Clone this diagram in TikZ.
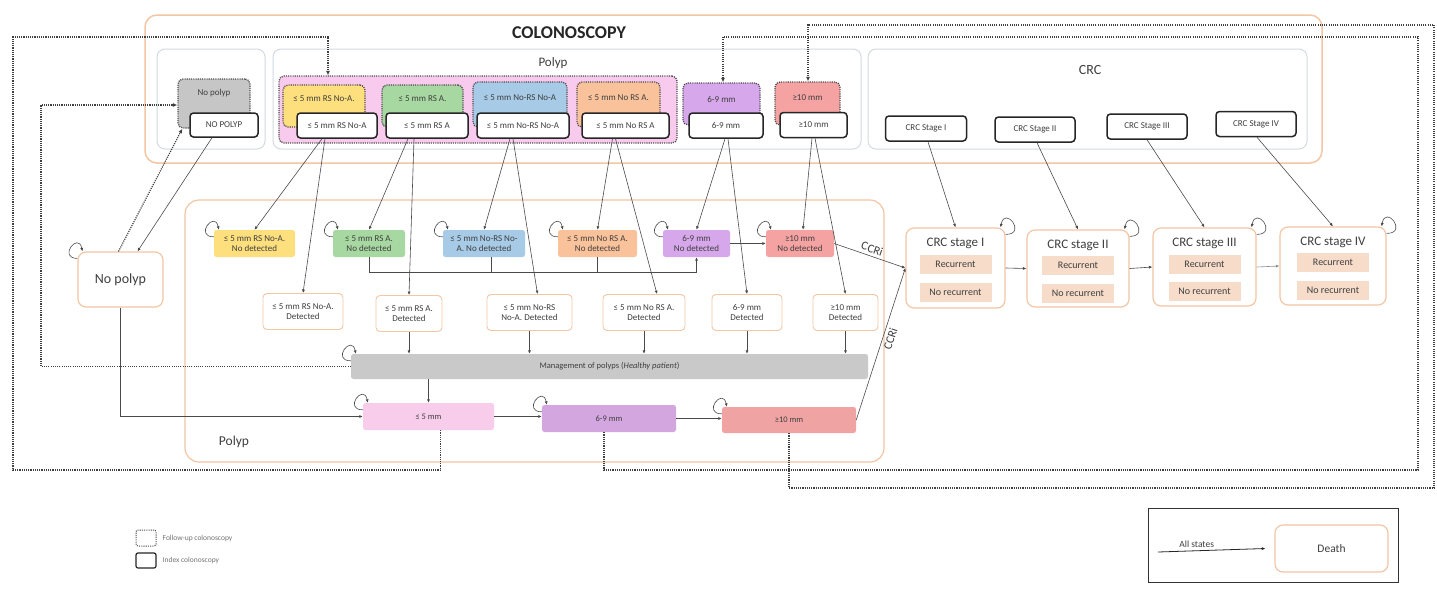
\documentclass[tikz,border=0pt]{standalone}
\usepackage{fontspec}
\setmainfont{Carlito}
\usetikzlibrary{arrows.meta}

\definecolor{peach}{HTML}{F4C6A3}
\definecolor{secgrey}{HTML}{D4DADF}
\definecolor{txt}{HTML}{3F3F3F}
\definecolor{lnc}{HTML}{4A4A4A}
\definecolor{yel}{HTML}{FDDF7E}
\definecolor{grn}{HTML}{A8D8A2}
\definecolor{blu}{HTML}{A7CAE6}
\definecolor{org}{HTML}{F9C29B}
\definecolor{pur}{HTML}{D6A7EA}
\definecolor{salmon}{HTML}{F5A2A2}
\definecolor{pinkgrp}{HTML}{F8CBEE}
\definecolor{npgrey}{HTML}{C6C6C6}
\definecolor{mggrey}{HTML}{C9C9C9}
\definecolor{smpink}{HTML}{F7CDEB}
\definecolor{mdpur}{HTML}{D3A6DF}
\definecolor{lgred}{HTML}{F0A3A3}
\definecolor{recfill}{HTML}{F7DCCA}

\newcommand{\selfloopnw}[1]{\draw[arr] ([yshift=-7pt]#1.north west) .. controls +(-20pt,0pt) and +(-4pt,20pt) .. ([xshift=5pt]#1.north west);}
\newcommand{\selfloopne}[1]{\draw[arr] ([yshift=-7pt]#1.north east) .. controls +(22pt,0pt) and +(4pt,22pt) .. ([xshift=-5pt]#1.north east);}

\begin{document}
\begin{tikzpicture}[x=1pt, y=-1pt,
    every node/.style={font=\fontsize{9}{10.5}\selectfont, text=txt, align=center, inner sep=1pt},
    arr/.style={draw=lnc, line width=0.6pt, -{Latex[length=3.5pt, width=3pt]}},
    ln/.style={draw=lnc, line width=0.6pt},
    fuline/.style={draw=black!75, line width=1.2pt, dash pattern=on 1.1pt off 1.1pt},
    fuarr/.style={fuline, -{Latex[length=4.5pt, width=4pt]}},
    ixbox/.style={draw=black!85, line width=1.5pt, fill=white, rounded corners=3.5pt, minimum height=25pt},
    fubox/.style={draw=black!70, line width=1.3pt, dash pattern=on 1.1pt off 1.1pt, rounded corners=5pt},
    ndbox/.style={rounded corners=2.5pt, minimum height=27pt},
    dtbox/.style={draw=peach, line width=0.9pt, fill=white, rounded corners=4pt, minimum height=36pt},
    bigbox/.style={draw=peach, line width=1.2pt, fill=white, rounded corners=8pt},
    recbox/.style={fill=recfill, minimum width=72pt, minimum height=19pt, font=\fontsize{10}{12}\selectfont},
    barbox/.style={rounded corners=2.5pt, minimum height=27pt, font=\fontsize{8.5}{10}\selectfont},
    ccri/.style={font=\fontsize{12}{14}\selectfont, inner sep=3pt}
]
\useasboundingbox (0,0) rectangle (1437,590);
\fill[white] (0,0) rectangle (1437,590);

\draw[peach, line width=1.5pt, rounded corners=12pt] (145,15) rectangle (1322,163);
\draw[secgrey, line width=1pt, rounded corners=8pt] (157,49) rectangle (265,149);
\draw[secgrey, line width=1pt, rounded corners=8pt] (273,49) rectangle (861,149);
\draw[secgrey, line width=1pt, rounded corners=8pt] (868,49) rectangle (1307,149);
\draw[peach, line width=1.2pt, rounded corners=14pt] (185,200) rectangle (884,462);

\node[font=\fontsize{18}{20}\selectfont\bfseries, text=black!85] (colon) at (569,33) {COLONOSCOPY};
\node[font=\fontsize{13}{15}\selectfont] (polyphd) at (553,63) {Polyp};
\node[font=\fontsize{14}{16}\selectfont] (crchd) at (1090,70) {CRC};
\node[font=\fontsize{13.5}{15}\selectfont] (polyplb) at (234,442) {Polyp};

\node[fubox, fill=pinkgrp, minimum width=398pt, minimum height=67pt] (grp) at (478,109.5) {};
\node[fubox, fill=npgrey, minimum width=72pt, minimum height=49pt] (fuNP) at (214,103.5) {};
\node (fuNPt) at (214,93) {No polyp};
\node[fubox, fill=yel, minimum width=82pt, minimum height=42pt] (fuA) at (324,106) {};
\node (fuAt) at (324,99) {≤ 5 mm RS No-A.};
\node[fubox, fill=grn, minimum width=81pt, minimum height=42pt] (fuB) at (422.5,106) {};
\node (fuBt) at (422.5,99) {≤ 5 mm RS A.};
\node[fubox, fill=blu, minimum width=94pt, minimum height=45pt] (fuC) at (520,104.5) {};
\node (fuCt) at (520,98) {≤ 5 mm No-RS No-A};
\node[fubox, fill=org, minimum width=83pt, minimum height=45pt] (fuD) at (618.5,104.5) {};
\node (fuDt) at (618.5,98) {≤ 5 mm No RS A.};
\node[fubox, fill=pur, minimum width=77pt, minimum height=42pt] (fuE) at (721.5,104) {};
\node (fuEt) at (721.5,99) {6-9 mm};
\node[fubox, fill=salmon, minimum width=65pt, minimum height=43pt] (fuF) at (807.5,103.5) {};
\node (fuFt) at (807.5,98) {≥10 mm};

\node[ixbox, minimum width=68pt, minimum height=24pt] (ixNP) at (224,125) {NO POLYP};
\node[ixbox, minimum width=80pt] (ixA) at (337,125.5) {≤ 5 mm RS No-A};
\node[ixbox, minimum width=82pt] (ixB) at (427,125.5) {≤ 5 mm RS A};
\node[ixbox, minimum width=92pt] (ixC) at (523,125.5) {≤ 5 mm No-RS No-A};
\node[ixbox, minimum width=87pt] (ixD) at (625.5,125.5) {≤ 5 mm No RS A};
\node[ixbox, minimum width=74pt] (ixE) at (726,125.5) {6-9 mm};
\node[ixbox, minimum width=67pt] (ixF) at (813.5,125) {≥10 mm};
\node[ixbox, minimum width=81pt] (ixS1) at (926,128.5) {CRC Stage I};
\node[ixbox, minimum width=80pt] (ixS2) at (1035,129.5) {CRC Stage II};
\node[ixbox, minimum width=80pt] (ixS3) at (1147,126.5) {CRC Stage III};
\node[ixbox, minimum width=80pt] (ixS4) at (1256,124) {CRC Stage IV};

\node[bigbox, minimum width=85pt, minimum height=55pt, font=\fontsize{14}{16}\selectfont] (np) at (120.5,279.5) {No polyp};

\node[ndbox, fill=yel, minimum width=81pt] (ndA) at (254.5,243.5) {≤ 5 mm RS No-A.\\No detected};
\node[ndbox, fill=grn, minimum width=72pt] (ndB) at (369,243.5) {≤ 5 mm RS A.\\No detected};
\node[ndbox, fill=blu, minimum width=82pt] (ndC) at (484,243.5) {≤ 5 mm No-RS No-\\A. No detected};
\node[ndbox, fill=org, minimum width=79pt] (ndD) at (597.5,243.5) {≤ 5 mm No RS A.\\No detected};
\node[ndbox, fill=pur, minimum width=67pt] (ndE) at (696.5,243.5) {6-9 mm\\No detected};
\node[ndbox, fill=salmon, minimum width=68pt] (ndF) at (800,243.5) {≥10 mm\\No detected};

\node[dtbox, minimum width=80pt] (dtA) at (303,311.5) {≤ 5 mm RS No-A.\\Detected};
\node[dtbox, minimum width=66pt] (dtB) at (409,313.5) {≤ 5 mm RS A.\\Detected};
\node[dtbox, minimum width=85pt] (dtC) at (529.5,312.5) {≤ 5 mm No-RS\\No-A. Detected};
\node[dtbox, minimum width=82pt] (dtD) at (644,312.5) {≤ 5 mm No RS A.\\Detected};
\node[dtbox, minimum width=70pt] (dtE) at (747,312.5) {6-9 mm\\Detected};
\node[dtbox, minimum width=65pt] (dtF) at (845.5,312.5) {≥10 mm\\Detected};

\node[barbox, fill=mggrey, minimum width=517pt, minimum height=25pt] (mg) at (609.5,366.5) {Management of polyps (\textit{Healthy patient})};
\node[barbox, fill=smpink, minimum width=131pt] (sm) at (428.5,416.5) {≤ 5 mm};
\node[barbox, fill=mdpur, minimum width=134pt] (md) at (609,418.5) {6-9 mm};
\node[barbox, fill=lgred, minimum width=134pt, minimum height=26pt] (lg) at (789,420) {≥10 mm};

\node[bigbox, minimum width=99pt, minimum height=80pt] (st1) at (955.5,268) {};
\node[font=\fontsize{13}{15}\selectfont] (st1t) at (955.5,243) {CRC stage I};
\node[recbox] (st1r) at (955.5,264) {Recurrent};
\node[recbox] (st1n) at (955.5,292) {No recurrent};
\node[bigbox, minimum width=102pt, minimum height=77pt] (st2) at (1078,268.5) {};
\node[font=\fontsize{13}{15}\selectfont] (st2t) at (1078,245) {CRC stage II};
\node[recbox] (st2r) at (1078,265.5) {Recurrent};
\node[recbox] (st2n) at (1078,293) {No recurrent};
\node[bigbox, minimum width=103pt, minimum height=78pt] (st3) at (1204.5,267) {};
\node[font=\fontsize{13}{15}\selectfont] (st3t) at (1204.5,243) {CRC stage III};
\node[recbox] (st3r) at (1204.5,264) {Recurrent};
\node[recbox] (st3n) at (1204.5,291) {No recurrent};
\node[bigbox, minimum width=106pt, minimum height=78pt] (st4) at (1333,266) {};
\node[font=\fontsize{13}{15}\selectfont] (st4t) at (1333,242) {CRC stage IV};
\node[recbox] (st4r) at (1333,262) {Recurrent};
\node[recbox] (st4n) at (1333,290) {No recurrent};

\coordinate (fuin1) at (328,37);
\coordinate (fuin2) at (41,105);
\coordinate (fuin3) at (723,37);
\coordinate (fuin4) at (808,25);
\draw[fuarr] ([xshift=12pt]sm.south) |- (13,470) |- (fuin1) -- (fuin1 |- grp.north);
\draw[fuarr] (mg.west) -| (fuin2) -- (fuin2 -| fuNP.west);
\draw[fuarr] ([xshift=-5pt]md.south) |- (1418,470) |- (fuin3) -- (fuin3 |- fuE.north);
\draw[fuarr] (lg.south) |- (1434,488) |- (fuin4) -- (fuin4 |- fuF.north);
\draw[fuarr] ([xshift=-2pt]np.north) -- ([xshift=5pt]fuNP.south west);
\draw[arr] ([xshift=-12pt]ixNP.south) -- ([xshift=17pt]np.north);

\draw[arr] ([xshift=-15pt]ixA.south) -- (ndA.north);
\draw[arr] ([xshift=-12pt]ixA.south) -- (dtA.north);
\draw[arr] ([xshift=-19pt]ixB.south) -- (ndB.north);
\draw[arr] ([xshift=-13pt]ixB.south) -- (dtB.north);
\draw[arr] ([xshift=-13pt]ixC.south) -- (ndC.north);
\draw[arr] ([xshift=-10pt]ixC.south) -- ([xshift=8pt]dtC.north);
\draw[arr] ([xshift=-13pt]ixD.south) -- (ndD.north);
\draw[arr] ([xshift=-10pt]ixD.south) -- ([xshift=13pt]dtD.north);
\draw[arr] ([xshift=-1pt]ixE.south) -- (ndE.north);
\draw[arr] ([xshift=2pt]ixE.south) -- (dtE.north);
\draw[arr] ([xshift=-1.5pt]ixF.south) -- ([xshift=3pt]ndF.north);
\draw[arr] ([xshift=1.5pt]ixF.south) -- (dtF.north);

\draw[arr] ([xshift=2pt]ixS1.south) -- (st1.north);
\draw[arr] ([xshift=2pt]ixS2.south) -- (st2.north);
\draw[arr] (ixS3.south) -- (st3.north);
\draw[arr] ([xshift=1pt]ixS4.south) -- (st4.north);

\draw[arr] (ndB.south) |- ([yshift=-15pt]ndE.south) -- (ndE.south);
\draw[ln] ([xshift=7pt]ndC.south) -- ++(0,15);
\draw[ln] (ndD.south) -- ++(0,15);
\draw[arr] (ndE.east) -- (ndF.west);

\draw[arr] (ndF.east) -- (st1.west) node[ccri, pos=0.5, above, sloped] {CCRi};
\draw[arr] (lg.east) -- (st1.west) node[ccri, pos=0.55, below, sloped] {CCRi};

\draw[arr] (st1.east) -- (st2.west);
\draw[arr] (st2.east) -- (st3.west);
\draw[arr, draw=black!45] (st3.east) -- (st4.west);

\draw[arr] (dtB.south) -- (dtB.south |- mg.north);
\draw[arr] (dtC.south) -- (dtC.south |- mg.north);
\draw[arr] (dtD.south) -- (dtD.south |- mg.north);
\draw[arr] (dtE.south) -- (dtE.south |- mg.north);
\draw[arr] (dtF.south) -- (dtF.south |- mg.north);
\draw[arr] (mg.south -| sm.north) -- (sm.north);

\draw[arr] (np.south) |- (sm.west);
\draw[arr] (sm.east) -- (sm.east -| md.west);
\draw[arr] (md.east) -- (md.east -| lg.west);

\selfloopnw{np}
\selfloopnw{ndA}
\selfloopnw{ndB}
\selfloopnw{ndC}
\selfloopnw{ndD}
\selfloopnw{ndE}
\selfloopnw{ndF}
\selfloopnw{mg}
\selfloopnw{sm}
\selfloopnw{md}
\selfloopnw{lg}
\selfloopne{st1}
\selfloopne{st2}
\selfloopne{st3}
\selfloopne{st4}

\node[fubox, minimum width=20pt, minimum height=16pt, rounded corners=2pt, line width=1pt] (lgfu) at (146,538) {};
\node[anchor=west, font=\fontsize{7.5}{9}\selectfont, text=black!55] (lgfut) at ([xshift=5pt]lgfu.east) {Follow-up colonoscopy};
\node[ixbox, minimum width=20pt, minimum height=15pt, rounded corners=2pt, line width=1.2pt] (lgix) at (146,560.5) {};
\node[anchor=west, font=\fontsize{7.5}{9}\selectfont, text=black!55] (lgixt) at ([xshift=5pt]lgix.east) {Index colonoscopy};

\draw[black!80, line width=0.9pt] (1148,508) rectangle (1398,582);
\node[bigbox, minimum width=113pt, minimum height=47pt, font=\fontsize{11.5}{13}\selectfont] (death) at (1331.5,548.5) {Death};
\coordinate (allst) at (1158,552);
\draw[arr, draw=black!85, line width=0.8pt] (allst) -- ([xshift=-9pt]death.west) node[pos=0.36, above, inner sep=3pt, font=\fontsize{9.5}{11}\selectfont] {All states};
\end{tikzpicture}
\end{document}
